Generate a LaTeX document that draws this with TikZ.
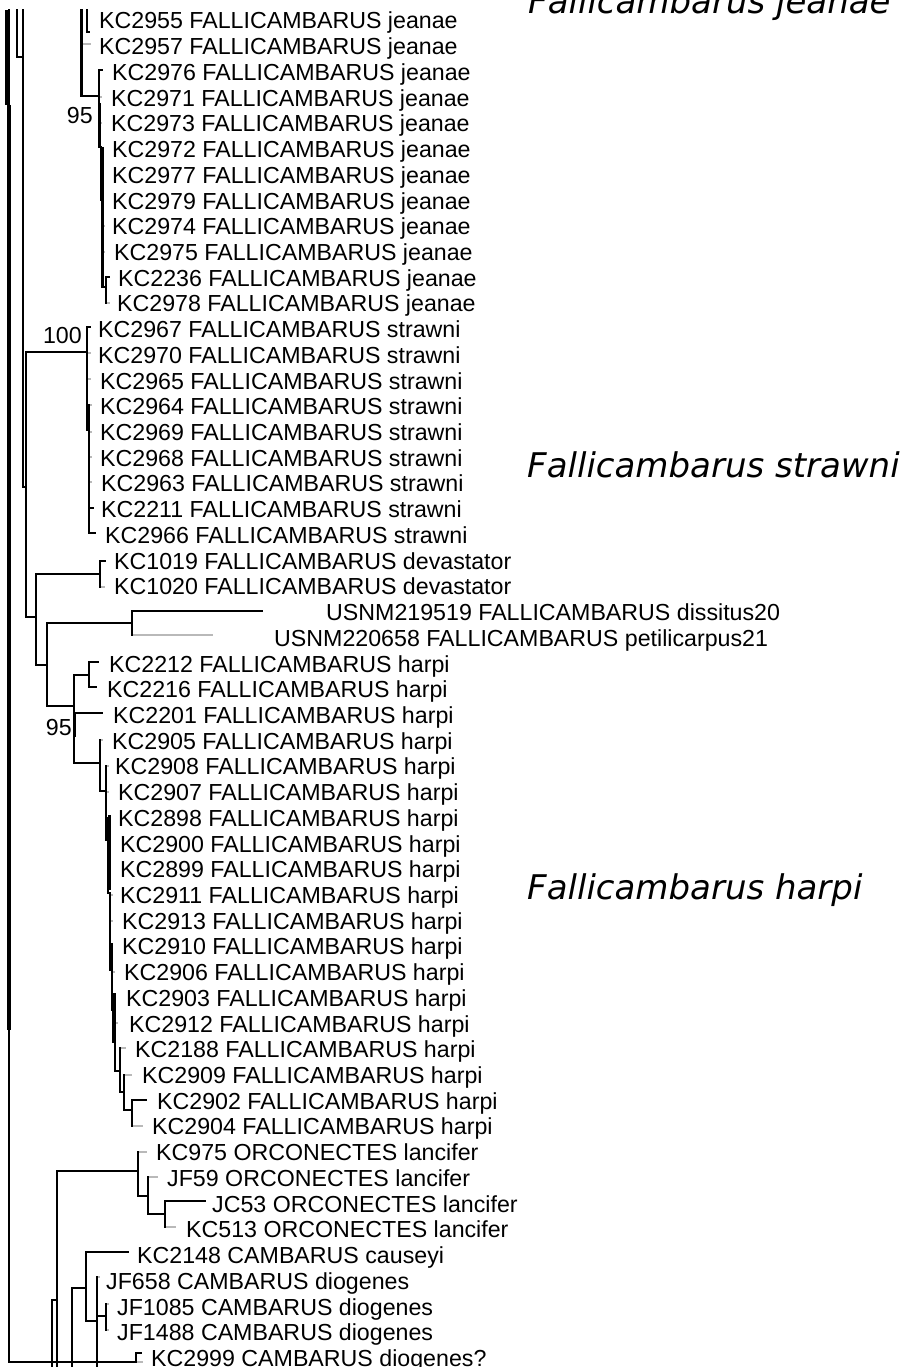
\documentclass[tikz,border=0pt]{standalone}
\usepackage{fontspec}
\setmainfont{Liberation Sans}
\newfontfamily\cladefont{DejaVu Sans}
\usetikzlibrary{calc}
\newcommand\bleaf[2]{\draw[br] (#1) |- (#2);}
\newcommand\gleaf[2]{\draw[br] (#1) -- (#1 |- #2); \draw[gst] ($(#1 |- #2)+(1.1,0)$) -- (#2);}
\begin{document}
\begin{tikzpicture}[x=1pt,y=-1pt,
  br/.style={line width=2.2pt, line cap=rect, draw=black},
  thk/.style={line width=#1, draw=black},
  gst/.style={line width=2pt, draw=gray!55},
  leaf/.style={anchor=west, inner sep=0pt, text height=16pt, text depth=0pt, font=\fontsize{23.2}{25}\selectfont},
  boot/.style={anchor=east, inner sep=0pt, text height=16pt, text depth=0pt, font=\fontsize{23.2}{25}\selectfont},
  clade/.style={anchor=base west, inner sep=0pt, font=\cladefont\itshape\fontsize{34}{40}\selectfont},
]
\useasboundingbox (0,0) rectangle (913,1367);
\clip (0,0) rectangle (913,1367);
\fill[white] (0,0) rectangle (913,1367);

% internal nodes
\coordinate (R0) at (9,-20);
\coordinate (N2999) at (136,1362);
\coordinate (A17) at (17,-20);
\coordinate (A23u) at (23,-20);
\coordinate (A23) at (23,57);
\coordinate (A26) at (26,487);
\coordinate (J0) at (81.5,-20);
\coordinate (J5) at (87,-20);
\coordinate (J1) at (99,96);
\coordinate (J2) at (101,147);
\coordinate (J3) at (102.5,197);
\coordinate (J4) at (106,287);
\coordinate (S1) at (87,352);
\coordinate (S2) at (89,430);
\coordinate (D36) at (36,617);
\coordinate (DV) at (100,574);
\coordinate (D47) at (47,665);
\coordinate (US) at (132,623);
\coordinate (H0) at (74,706);
\coordinate (H1) at (89,675);
\coordinate (H2) at (100,763);
\coordinate (H3) at (106,791);
\coordinate (H4) at (108,840);
\coordinate (H5) at (110,893);
\coordinate (H6) at (112,970);
\coordinate (H7) at (115,1010);
\coordinate (H8) at (120,1071);
\coordinate (H9) at (124,1092);
\coordinate (H10) at (132,1110);
\coordinate (P52) at (52,1400);
\coordinate (C0) at (57,1300);
\coordinate (C0d) at (57,1400);
\coordinate (O0) at (138,1171);
\coordinate (O1) at (148,1196);
\coordinate (O2) at (165,1214);
\coordinate (C1) at (72,1400);
\coordinate (C2) at (86,1288);
\coordinate (C3) at (97,1321);
\coordinate (C3d) at (97,1400);
\coordinate (C4) at (106,1316);

% tips
\coordinate (T2955) at (89,32);
\coordinate (T2957) at (91,44);
\coordinate (T2976) at (102,70);
\coordinate (T2971) at (102,97);
\coordinate (T2973) at (102,123);
\coordinate (T2972) at (104,149);
\coordinate (T2977) at (104,175);
\coordinate (T2979) at (104,200);
\coordinate (T2974) at (105,226);
\coordinate (T2975) at (105,252);
\coordinate (T2236) at (109,277);
\coordinate (T2978) at (110,303);
\coordinate (T2967) at (90,327);
\coordinate (T2970) at (91,353);
\coordinate (T2965) at (91,379);
\coordinate (T2964) at (92,405);
\coordinate (T2969) at (92,432);
\coordinate (T2968) at (92,457);
\coordinate (T2963) at (92,482);
\coordinate (T2211) at (93,508);
\coordinate (T2966) at (95,533);
\coordinate (T1019) at (105,561);
\coordinate (T1020) at (105,587);
\coordinate (T219519) at (262,611);
\coordinate (T220658) at (213,635);
\coordinate (T2212) at (98,662);
\coordinate (T2216) at (96,687);
\coordinate (T2201) at (102,713);
\coordinate (T2905) at (103,740);
\coordinate (T2908) at (109,766);
\coordinate (T2907) at (109,792);
\coordinate (T2898) at (111,818);
\coordinate (T2900) at (111,844);
\coordinate (T2899) at (111,870);
\coordinate (T2911) at (113,895);
\coordinate (T2913) at (113,921);
\coordinate (T2910) at (113,946);
\coordinate (T2906) at (115,972);
\coordinate (T2903) at (116,998);
\coordinate (T2912) at (118,1023);
\coordinate (T2188) at (126,1048);
\coordinate (T2909) at (132,1075);
\coordinate (T2902) at (146,1100);
\coordinate (T2904) at (143,1126);
\coordinate (T975) at (147,1152);
\coordinate (T59) at (158,1177);
\coordinate (T53) at (205,1201);
\coordinate (T513) at (176,1227);
\coordinate (T2148) at (128,1252);
\coordinate (T658) at (100,1277);
\coordinate (T1085) at (109,1304);
\coordinate (T1488) at (109,1330);
\coordinate (T2999) at (141,1353);
\coordinate (Tb) at (143,1362);

\begin{scope}
\clip (0,10) rectangle (913,1367);
% grey stubs first, black on top
\gleaf{J0}{T2957}
\gleaf{J1}{T2971} \gleaf{J1}{T2973}
\gleaf{J2}{T2972} \gleaf{J2}{T2977} \gleaf{J2}{T2979}
\gleaf{J3}{T2974} \gleaf{J3}{T2975}
\gleaf{J4}{T2978}
\gleaf{S1}{T2970} \gleaf{S1}{T2965}
\gleaf{S2}{T2964} \gleaf{S2}{T2969} \gleaf{S2}{T2968} \gleaf{S2}{T2963}
\gleaf{DV}{T1020}
\gleaf{US}{T220658}
\gleaf{H2}{T2905}
\gleaf{H3}{T2908} \gleaf{H3}{T2907}
\gleaf{H4}{T2898} \gleaf{H4}{T2900} \gleaf{H4}{T2899}
\gleaf{H5}{T2911} \gleaf{H5}{T2913} \gleaf{H5}{T2910}
\gleaf{H6}{T2906} \gleaf{H6}{T2903}
\gleaf{H7}{T2912}
\gleaf{H8}{T2188}
\gleaf{H9}{T2909}
\gleaf{H10}{T2904}
\gleaf{O0}{T975}
\gleaf{O1}{T59}
\gleaf{O2}{T513}
\gleaf{C3}{T658}
\gleaf{C4}{T1085} \gleaf{C4}{T1488}
\gleaf{N2999}{Tb}

% black branches
\bleaf{R0}{N2999}
\bleaf{A17}{A23}
\draw[br] (A23u) -- (A23);
\bleaf{A23}{A26}
\bleaf{A26}{S1} \bleaf{A26}{D36}
\bleaf{J5}{T2955}
\bleaf{J0}{J1}
\bleaf{J1}{T2976} \bleaf{J1}{J2}
\bleaf{J2}{J3}
\bleaf{J3}{J4}
\bleaf{J4}{T2236}
\bleaf{S1}{T2967} \bleaf{S1}{S2}
\bleaf{S2}{T2211} \bleaf{S2}{T2966}
\bleaf{D36}{DV} \bleaf{D36}{D47}
\bleaf{DV}{T1019}
\bleaf{D47}{US} \bleaf{D47}{H0}
\bleaf{US}{T219519}
\bleaf{H0}{H1} \bleaf{H0}{T2201} \bleaf{H0}{H2}
\bleaf{H1}{T2212} \bleaf{H1}{T2216}
\bleaf{H2}{H3}
\bleaf{H3}{H4}
\bleaf{H4}{H5}
\bleaf{H5}{H6}
\bleaf{H6}{H7}
\bleaf{H7}{H8}
\bleaf{H8}{H9}
\bleaf{H9}{H10}
\bleaf{H10}{T2902}
\bleaf{P52}{C0} \draw[br] (C0) -- (C0d);
\bleaf{C0}{O0}
\bleaf{O0}{O1}
\bleaf{O1}{O2}
\bleaf{O2}{T53}
\bleaf{C1}{C2}
\bleaf{C2}{T2148} \bleaf{C2}{C3}
\bleaf{C3}{C4} \draw[br] (C3) -- (C3d);
\bleaf{N2999}{T2999}

% overlapping (thickened) segments
\draw[thk=5pt] (7.5,10) -- (7.5,105);
\draw[thk=3.5pt] (8.8,105) -- (8.8,1030);
\draw[thk=3.5pt] (81.5,10) -- (81.5,43);
\draw[thk=3pt] (99.5,103) -- (99.5,147);
\draw[thk=3pt] (102,147) -- (102,197);
\draw[thk=3.5pt] (74.5,713) -- (74.5,737);
\draw[thk=3pt] (109,815) -- (109,890);
\draw[thk=3pt] (111.5,943) -- (111.5,970);
\draw[thk=4pt] (114,993) -- (114,1043);
\end{scope}

% leaf labels
\foreach \nm/\tx/\lx/\i [evaluate=\i as \yy using 21+25.72*\i] in {
 2955/KC2955 FALLICAMBARUS jeanae/99/0,
 2957/KC2957 FALLICAMBARUS jeanae/99/1,
 2976/KC2976 FALLICAMBARUS jeanae/112/2,
 2971/KC2971 FALLICAMBARUS jeanae/111/3,
 2973/KC2973 FALLICAMBARUS jeanae/111/4,
 2972/KC2972 FALLICAMBARUS jeanae/112/5,
 2977/KC2977 FALLICAMBARUS jeanae/112/6,
 2979/KC2979 FALLICAMBARUS jeanae/112/7,
 2974/KC2974 FALLICAMBARUS jeanae/112/8,
 2975/KC2975 FALLICAMBARUS jeanae/114/9,
 2236/KC2236 FALLICAMBARUS jeanae/118/10,
 2978/KC2978 FALLICAMBARUS jeanae/117/11,
 2967/KC2967 FALLICAMBARUS strawni/98/12,
 2970/KC2970 FALLICAMBARUS strawni/98/13,
 2965/KC2965 FALLICAMBARUS strawni/100/14,
 2964/KC2964 FALLICAMBARUS strawni/100/15,
 2969/KC2969 FALLICAMBARUS strawni/100/16,
 2968/KC2968 FALLICAMBARUS strawni/100/17,
 2963/KC2963 FALLICAMBARUS strawni/101/18,
 2211/KC2211 FALLICAMBARUS strawni/101/19,
 2966/KC2966 FALLICAMBARUS strawni/105/20,
 1019/KC1019 FALLICAMBARUS devastator/114/21,
 1020/KC1020 FALLICAMBARUS devastator/114/22,
 219519/USNM219519 FALLICAMBARUS dissitus20/326/23,
 220658/USNM220658 FALLICAMBARUS petilicarpus21/274/24,
 2212/KC2212 FALLICAMBARUS harpi/109/25,
 2216/KC2216 FALLICAMBARUS harpi/107/26,
 2201/KC2201 FALLICAMBARUS harpi/113/27,
 2905/KC2905 FALLICAMBARUS harpi/112/28,
 2908/KC2908 FALLICAMBARUS harpi/115/29,
 2907/KC2907 FALLICAMBARUS harpi/118/30,
 2898/KC2898 FALLICAMBARUS harpi/118/31,
 2900/KC2900 FALLICAMBARUS harpi/120/32,
 2899/KC2899 FALLICAMBARUS harpi/120/33,
 2911/KC2911 FALLICAMBARUS harpi/120/34,
 2913/KC2913 FALLICAMBARUS harpi/122/35,
 2910/KC2910 FALLICAMBARUS harpi/122/36,
 2906/KC2906 FALLICAMBARUS harpi/124/37,
 2903/KC2903 FALLICAMBARUS harpi/126/38,
 2912/KC2912 FALLICAMBARUS harpi/129/39,
 2188/KC2188 FALLICAMBARUS harpi/135/40,
 2909/KC2909 FALLICAMBARUS harpi/142/41,
 2902/KC2902 FALLICAMBARUS harpi/157/42,
 2904/KC2904 FALLICAMBARUS harpi/152/43,
 975/KC975 ORCONECTES lancifer/156/44,
 59/JF59 ORCONECTES lancifer/167/45,
 53/JC53 ORCONECTES lancifer/212/46,
 513/KC513 ORCONECTES lancifer/186/47,
 2148/KC2148 CAMBARUS causeyi/137/48,
 658/JF658 CAMBARUS diogenes/106/49,
 1085/JF1085 CAMBARUS diogenes/117/50,
 1488/JF1488 CAMBARUS diogenes/117/51,
 2999/KC2999 CAMBARUS diogenes?/151/52}
 { \node[leaf] (L\nm) at (\lx,\yy) {\tx}; }

% support values
\node[boot] (b1) at (93,116) {95};
\node[boot] (b2) at (82,335) {100};
\node[boot] (b3) at (72,727) {95};

% clade names
\node[clade] (cj) at (528,14) {Fallicambarus jeanae};
\node[clade] (cs) at (527,477) {Fallicambarus strawni};
\node[clade] (ch) at (527,899) {Fallicambarus harpi};
\end{tikzpicture}
\end{document}
